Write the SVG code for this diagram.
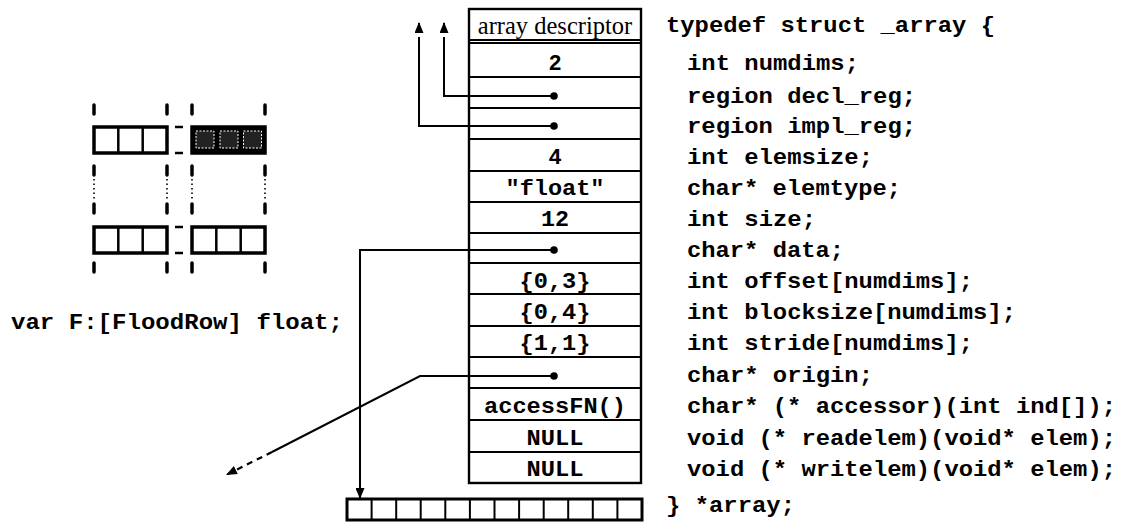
<svg xmlns="http://www.w3.org/2000/svg" width="1134" height="527" viewBox="0 0 1134 527">
<style>
  .mono { font-family: "Liberation Mono", "DejaVu Sans Mono", monospace; font-weight: bold; font-size: 22px; fill: #000; }
  .cell { font-family: "Liberation Mono", "DejaVu Sans Mono", monospace; font-weight: bold; font-size: 22px; fill: #000; text-anchor: middle; }
  .serif { font-family: "Liberation Serif", "Times New Roman", serif; font-size: 24.5px; fill: #000; text-anchor: middle; }
  .tbl { fill: #fff; stroke: #000; stroke-width: 2.4; }
  .rowline { stroke: #000; stroke-width: 2; }
  .wire { fill: none; stroke: #000; stroke-width: 2; }
  .dotted { fill: none; stroke: #000; stroke-width: 2; stroke-dasharray: 3 4; }
  .dashed { fill: none; stroke: #000; stroke-width: 2.2; stroke-dasharray: 6 5; }
  .tick { stroke: #000; stroke-width: 3.5; stroke-linecap: round; }
  .vdots { stroke: #000; stroke-width: 1.6; stroke-dasharray: 1.5 3; }
  .box { fill: #fff; stroke: #000; stroke-width: 3.5; }
  .boxdark { fill: #000; stroke: #000; stroke-width: 3.5; }
  .cellin { fill: #222; stroke: #fff; stroke-width: 1; stroke-dasharray: 2 1.5; }
  .div { stroke: #000; stroke-width: 2.5; }
  .gap { stroke: #000; stroke-width: 2.5; }
  .ptr { fill: #000; }
</style>
<defs>
  <marker id="ah" markerUnits="userSpaceOnUse" markerWidth="12" markerHeight="9" refX="11" refY="4.5" orient="auto">
    <path d="M0,0 L11,4.5 L0,9 z" fill="#000"/>
  </marker>
</defs>

<!-- left figure -->
<g id="flood-figure">
  <g id="ticks">
    <line class="tick" x1="94" y1="105" x2="94" y2="114"/>
    <line class="tick" x1="167" y1="105" x2="167" y2="114"/>
    <line class="tick" x1="192" y1="105" x2="192" y2="114"/>
    <line class="tick" x1="265" y1="105" x2="265" y2="114"/>

    <line class="tick" x1="94" y1="166" x2="94" y2="175"/>
    <line class="tick" x1="167" y1="166" x2="167" y2="175"/>
    <line class="tick" x1="192" y1="166" x2="192" y2="175"/>
    <line class="tick" x1="265" y1="166" x2="265" y2="175"/>

    <line class="vdots" x1="94" y1="179" x2="94" y2="201"/>
    <line class="vdots" x1="167" y1="179" x2="167" y2="201"/>
    <line class="vdots" x1="192" y1="179" x2="192" y2="201"/>
    <line class="vdots" x1="265" y1="179" x2="265" y2="201"/>

    <line class="tick" x1="94" y1="204" x2="94" y2="213"/>
    <line class="tick" x1="167" y1="204" x2="167" y2="213"/>
    <line class="tick" x1="192" y1="204" x2="192" y2="213"/>
    <line class="tick" x1="265" y1="204" x2="265" y2="213"/>

    <line class="tick" x1="94" y1="263" x2="94" y2="272"/>
    <line class="tick" x1="167" y1="263" x2="167" y2="272"/>
    <line class="tick" x1="192" y1="263" x2="192" y2="272"/>
    <line class="tick" x1="265" y1="263" x2="265" y2="272"/>
  </g>
  <g id="row-top">
    <rect class="box" x="94" y="127" width="73" height="26"/>
    <line class="div" x1="118.3" y1="127" x2="118.3" y2="153"/>
    <line class="div" x1="142.7" y1="127" x2="142.7" y2="153"/>
    <rect class="boxdark" x="192" y="127" width="73" height="26"/>
    <rect class="cellin" x="196" y="131" width="18" height="17"/>
    <rect class="cellin" x="220" y="131" width="18" height="17"/>
    <rect class="cellin" x="243.5" y="131" width="18" height="17"/>
    <line class="gap" x1="175" y1="127" x2="183" y2="127"/>
    <line class="gap" x1="175" y1="153" x2="183" y2="153"/>
  </g>
  <g id="row-bottom">
    <rect class="box" x="94" y="227" width="73" height="26"/>
    <line class="div" x1="118.3" y1="227" x2="118.3" y2="253"/>
    <line class="div" x1="142.7" y1="227" x2="142.7" y2="253"/>
    <rect class="box" x="192" y="227" width="73" height="26"/>
    <line class="div" x1="216.3" y1="227" x2="216.3" y2="253"/>
    <line class="div" x1="240.7" y1="227" x2="240.7" y2="253"/>
    <line class="gap" x1="175" y1="227" x2="183" y2="227"/>
    <line class="gap" x1="175" y1="253" x2="183" y2="253"/>
  </g>
</g>

<g id="var-decl">
  <text class="mono" x="11" y="329" textLength="332" lengthAdjust="spacingAndGlyphs">var F:[FloodRow] float;</text>
</g>

<!-- array descriptor table -->
<g id="descriptor">
  <rect class="tbl" x="469" y="9" width="172" height="474"/>
  <line class="rowline" x1="469" y1="40" x2="641" y2="40"/>
  <line class="rowline" x1="469" y1="43" x2="641" y2="43"/>
  <line class="rowline" x1="469" y1="77" x2="641" y2="77"/>
  <line class="rowline" x1="469" y1="108" x2="641" y2="108"/>
  <line class="rowline" x1="469" y1="139" x2="641" y2="139"/>
  <line class="rowline" x1="469" y1="171" x2="641" y2="171"/>
  <line class="rowline" x1="469" y1="202" x2="641" y2="202"/>
  <line class="rowline" x1="469" y1="233" x2="641" y2="233"/>
  <line class="rowline" x1="469" y1="263" x2="641" y2="263"/>
  <line class="rowline" x1="469" y1="294" x2="641" y2="294"/>
  <line class="rowline" x1="469" y1="326" x2="641" y2="326"/>
  <line class="rowline" x1="469" y1="357" x2="641" y2="357"/>
  <line class="rowline" x1="469" y1="388" x2="641" y2="388"/>
  <line class="rowline" x1="469" y1="420" x2="641" y2="420"/>
  <line class="rowline" x1="469" y1="452" x2="641" y2="452"/>
  <text class="serif" x="555" y="34">array descriptor</text>
  <text class="cell" x="555" y="70">2</text>
  <text class="cell" x="555" y="164">4</text>
  <text class="cell" x="555" y="195" textLength="99" lengthAdjust="spacingAndGlyphs">"float"</text>
  <text class="cell" x="555" y="226" textLength="28" lengthAdjust="spacingAndGlyphs">12</text>
  <text class="cell" x="555" y="288" textLength="71" lengthAdjust="spacingAndGlyphs">{0,3}</text>
  <text class="cell" x="555" y="319" textLength="71" lengthAdjust="spacingAndGlyphs">{0,4}</text>
  <text class="cell" x="555" y="350" textLength="71" lengthAdjust="spacingAndGlyphs">{1,1}</text>
  <text class="cell" x="555" y="413" textLength="142" lengthAdjust="spacingAndGlyphs">accessFN()</text>
  <text class="cell" x="555" y="445" textLength="57" lengthAdjust="spacingAndGlyphs">NULL</text>
  <text class="cell" x="555" y="476" textLength="57" lengthAdjust="spacingAndGlyphs">NULL</text>
  <circle class="ptr" cx="554" cy="96" r="3.8"/>
  <circle class="ptr" cx="554" cy="126" r="3.8"/>
  <circle class="ptr" cx="554" cy="250" r="3.8"/>
  <circle class="ptr" cx="554" cy="376" r="3.8"/>
</g>

<!-- data array -->
<g id="data-array">
  <rect x="347" y="499" width="295" height="21" fill="#fff" stroke="#000" stroke-width="3"/>
  <g class="rowline">
    <line x1="371.6" y1="499" x2="371.6" y2="520"/>
    <line x1="396.2" y1="499" x2="396.2" y2="520"/>
    <line x1="420.7" y1="499" x2="420.7" y2="520"/>
    <line x1="445.3" y1="499" x2="445.3" y2="520"/>
    <line x1="469.9" y1="499" x2="469.9" y2="520"/>
    <line x1="494.5" y1="499" x2="494.5" y2="520"/>
    <line x1="519.1" y1="499" x2="519.1" y2="520"/>
    <line x1="543.7" y1="499" x2="543.7" y2="520"/>
    <line x1="568.2" y1="499" x2="568.2" y2="520"/>
    <line x1="592.8" y1="499" x2="592.8" y2="520"/>
    <line x1="617.4" y1="499" x2="617.4" y2="520"/>
  </g>
</g>

<!-- struct declaration -->
<g id="struct-code" class="mono">
  <text x="666" y="32" textLength="329" lengthAdjust="spacingAndGlyphs">typedef struct _array {</text>
  <text x="687" y="70" textLength="172" lengthAdjust="spacingAndGlyphs">int numdims;</text>
  <text x="687" y="103" textLength="229" lengthAdjust="spacingAndGlyphs">region decl_reg;</text>
  <text x="687" y="133" textLength="229" lengthAdjust="spacingAndGlyphs">region impl_reg;</text>
  <text x="687" y="164" textLength="186" lengthAdjust="spacingAndGlyphs">int elemsize;</text>
  <text x="687" y="195" textLength="214" lengthAdjust="spacingAndGlyphs">char* elemtype;</text>
  <text x="687" y="226" textLength="129" lengthAdjust="spacingAndGlyphs">int size;</text>
  <text x="687" y="257" textLength="157" lengthAdjust="spacingAndGlyphs">char* data;</text>
  <text x="687" y="288" textLength="286" lengthAdjust="spacingAndGlyphs">int offset[numdims];</text>
  <text x="687" y="319" textLength="329" lengthAdjust="spacingAndGlyphs">int blocksize[numdims];</text>
  <text x="687" y="350" textLength="286" lengthAdjust="spacingAndGlyphs">int stride[numdims];</text>
  <text x="687" y="382" textLength="186" lengthAdjust="spacingAndGlyphs">char* origin;</text>
  <text x="687" y="413" textLength="429" lengthAdjust="spacingAndGlyphs">char* (* accessor)(int ind[]);</text>
  <text x="687" y="445" textLength="429" lengthAdjust="spacingAndGlyphs">void (* readelem)(void* elem);</text>
  <text x="687" y="476" textLength="429" lengthAdjust="spacingAndGlyphs">void (* writelem)(void* elem);</text>
  <text x="666" y="512" textLength="129" lengthAdjust="spacingAndGlyphs">} *array;</text>
</g>

<!-- connectors -->
<g id="connectors">
  <path class="wire" d="M554,96 H444 V40"/>
  <path class="dotted" d="M444,40 V22" marker-end="url(#ah)"/>
  <path class="wire" d="M554,126 H419 V40"/>
  <path class="dotted" d="M419,40 V22" marker-end="url(#ah)"/>
  <path class="wire" d="M554,250 H360 V499" marker-end="url(#ah)"/>
  <path class="wire" d="M554,376 H420 L272,452"/>
  <path class="dashed" d="M272,452 L226,475" marker-end="url(#ah)"/>
</g>
</svg>
